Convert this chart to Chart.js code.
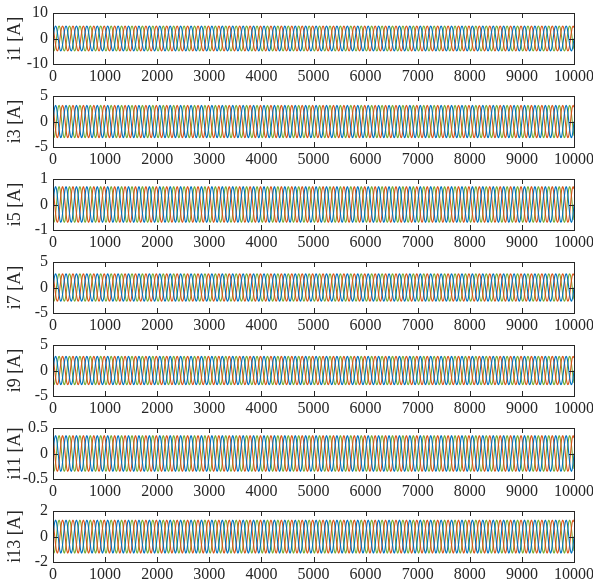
<!DOCTYPE html>
<html>
<head>
<meta charset="utf-8">
<script src="https://cdn.jsdelivr.net/npm/chart.js@4.4.1/dist/chart.umd.min.js"></script>
<style>
  html, body { margin: 0; padding: 0; background: #fff; }
  #wrap { position: relative; width: 593px; height: 588px; overflow: hidden; }
  .panel { position: absolute; left: 0; width: 593px; height: 92px; }
</style>
</head>
<body>
<div id="wrap"></div>
<script>
// tick labels
const xTicks = [0, 1000, 2000, 3000, 4000, 5000, 6000, 7000, 8000, 9000, 10000];
const panelNames = ['i1 [A]', 'i3 [A]', 'i5 [A]', 'i7 [A]', 'i9 [A]', 'i11 [A]', 'i13 [A]'];
const yLimits = [10, 5, 1, 5, 5, 0.5, 2];

// peak current of each harmonic
const peakAmps = [4.9, 3.2, 0.7, 2.7, 2.8, 0.35, 1.3];
const cyclesShown = 50;
// one period of the trace (normalised), 12 samples
const waveShape = [0, 0.5, 0.87, 1, 0.87, 0.5, 0, -0.5, -0.87, -1, -0.87, -0.5];
// phase offset of each trace, in samples of the period above
const phaseShift = [0, 4, 8];
const phaseColors = ['#0072BD', '#D95319', '#77AC30'];

const serif = 'Liberation Serif, Times New Roman, serif';

function buildSeries(amp, shift) {
    const n = waveShape.length;
    const total = cyclesShown * n;
    const pts = [];
    for (let k = 0; k <= total; k++) {
        pts.push({ x: k * 10000 / total, y: amp * waveShape[(k + shift) % n] });
    }
    return pts;
}

// box around the plot area plus inward ticks, like the original
const boxTicks = {
    id: 'boxTicks',
    afterDraw(chart) {
        const c = chart.ctx, a = chart.chartArea;
        const xs = chart.scales.x, ys = chart.scales.y;
        c.save();
        c.strokeStyle = '#262626';
        c.lineWidth = 1;
        c.beginPath();
        xs.ticks.forEach(t => {
            const px = Math.round(xs.getPixelForValue(t.value)) + 0.5;
            c.moveTo(px, a.bottom); c.lineTo(px, a.bottom - 5);
            c.moveTo(px, a.top); c.lineTo(px, a.top + 5);
        });
        ys.ticks.forEach(t => {
            const py = Math.round(ys.getPixelForValue(t.value)) + 0.5;
            c.moveTo(a.left, py); c.lineTo(a.left + 5, py);
            c.moveTo(a.right, py); c.lineTo(a.right - 5, py);
        });
        c.stroke();
        c.strokeRect(Math.round(a.left) + 0.5, Math.round(a.top) + 0.5,
            Math.round(a.right - a.left), Math.round(a.bottom - a.top));
        c.restore();
    }
};

const wrap = document.getElementById('wrap');

panelNames.forEach((name, i) => {
    const div = document.createElement('div');
    div.className = 'panel';
    div.style.top = (83 * i) + 'px';
    const cv = document.createElement('canvas');
    div.appendChild(cv);
    wrap.appendChild(div);

    const lim = yLimits[i];
    new Chart(cv.getContext('2d'), {
        type: 'line',
        data: {
            datasets: phaseColors.map((col, p) => ({
                data: buildSeries(peakAmps[i], phaseShift[p]),
                borderColor: col,
                borderWidth: 1.1,
                pointRadius: 0,
                fill: false,
                tension: 0.3
            }))
        },
        options: {
            responsive: true,
            maintainAspectRatio: false,
            animation: false,
            events: [],
            layout: { padding: { top: 13, right: 19, left: 0, bottom: 0 } },
            plugins: { legend: { display: false }, tooltip: { enabled: false } },
            scales: {
                x: {
                    type: 'linear',
                    min: 0,
                    max: 10000,
                    afterBuildTicks: s => { s.ticks = xTicks.map(v => ({ value: v })); },
                    afterFit: s => { s.height = 28; s.paddingLeft = 0; s.paddingRight = 0; },
                    grid: { display: false, drawTicks: false },
                    border: { display: false },
                    ticks: {
                        autoSkip: false,
                        maxRotation: 0,
                        padding: 3,
                        color: '#262626',
                        font: { family: serif, size: 16 },
                        callback: v => String(v)
                    }
                },
                y: {
                    min: -lim,
                    max: lim,
                    afterBuildTicks: s => { s.ticks = [-lim, 0, lim].map(v => ({ value: v })); },
                    afterFit: s => { s.width = 53; s.paddingTop = 0; s.paddingBottom = 0; },
                    grid: { display: false, drawTicks: false },
                    border: { display: false },
                    title: {
                        display: true,
                        text: name,
                        color: '#262626',
                        padding: { top: 4, bottom: 0 },
                        font: { family: serif, size: 18 }
                    },
                    ticks: {
                        padding: 5,
                        color: '#262626',
                        font: { family: serif, size: 16 },
                        callback: v => String(v)
                    }
                }
            }
        },
        plugins: [boxTicks]
    });
});
</script>
</body>
</html>
